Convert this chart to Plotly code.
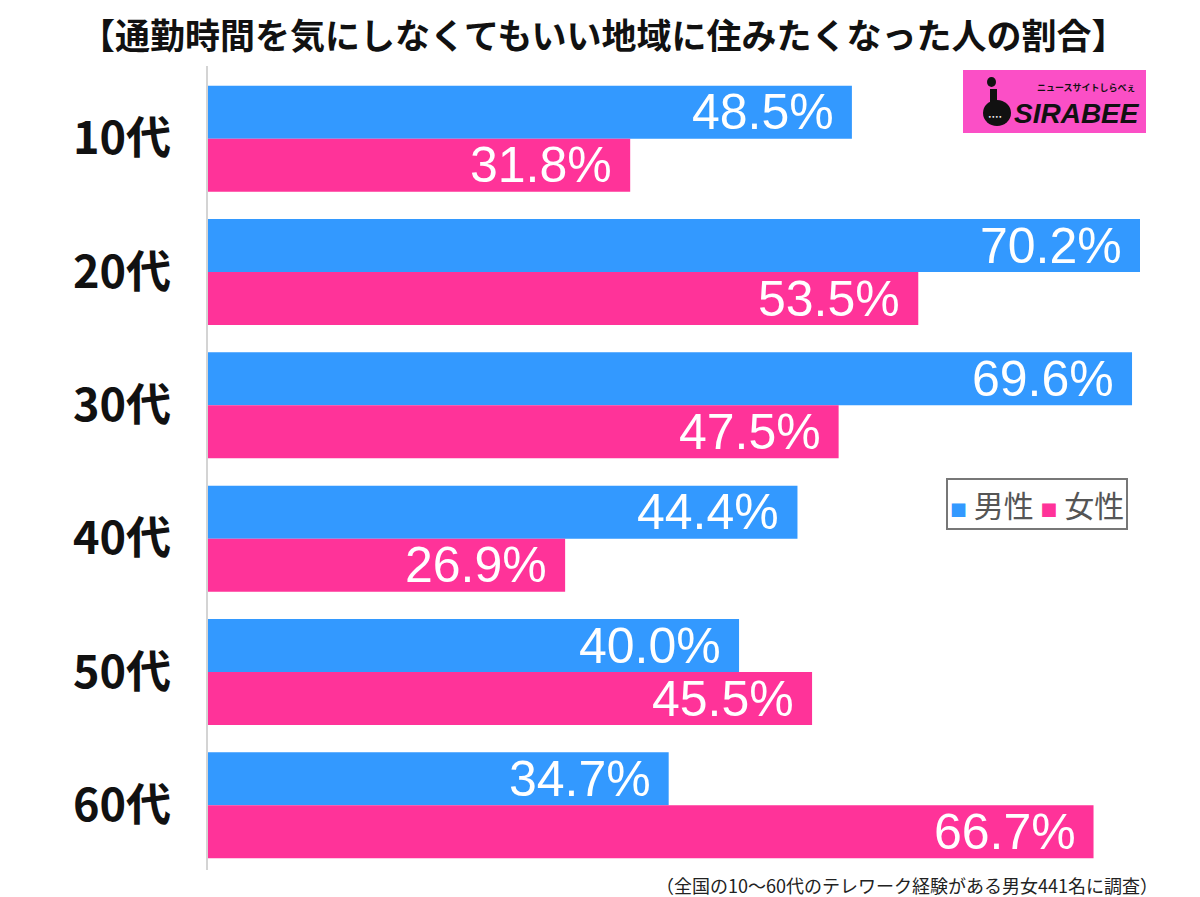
import plotly.graph_objects as go

categories = ["10代", "20代", "30代", "40代", "50代", "60代"]
male = [48.5, 70.2, 69.6, 44.4, 40.0, 34.7]
female = [31.8, 53.5, 47.5, 26.9, 45.5, 66.7]
series_names = ["男性", "女性"]
colors = ["#3399ff", "#ff3399"]

title_text = "【通勤時間を気にしなくてもいい地域に住みたくなった人の割合】"
note_text = "（全国の10〜60代のテレワーク経験がある男女441名に調査）"

# page has an 8px body margin; figure is sized so the page is 1200x897
OFF = 8
W, H = 1200 - OFF, 897 - OFF
L, R, T, B = 200, 20, 64, 25
plot_w = W - L - R
plot_h = H - T - B
px_per_unit = (1140 - 208) / 70.2
xmax = plot_w / px_per_unit


def px2x(px):
    return (px - OFF - L) / plot_w


def py2y(py):
    return (H - B - (py - OFF)) / plot_h


fig = go.Figure()
for name, vals, col in zip(series_names, [male, female], colors):
    fig.add_trace(go.Bar(
        y=categories, x=vals, name=name, orientation="h",
        marker=dict(color=col, line=dict(width=0)),
        hoverinfo="skip", showlegend=False,
    ))

bargap = 0.205
cat_px = plot_h / len(categories)
offset_px = cat_px * (1 - bargap) / 4

annotations = []
for vals, sign in [(male, 1), (female, -1)]:
    for c, v in zip(categories, vals):
        annotations.append(dict(
            x=v, y=c, xref="x", yref="y", text=f"{v:.1f}%",
            showarrow=False, xanchor="right", yanchor="middle",
            xshift=-16, yshift=sign * offset_px,
            font=dict(family="Liberation Sans, Arial, sans-serif", size=50, color="white"),
        ))

# legend box
legend_text = (
    f"<span style='color:{colors[0]};font-size:17px'>■</span> {series_names[0]} "
    f"<span style='color:{colors[1]};font-size:17px'>■</span> {series_names[1]}"
)
annotations.append(dict(
    x=px2x(946), y=py2y(478), xref="paper", yref="paper",
    text=legend_text, showarrow=False, xanchor="left", yanchor="top",
    font=dict(family="Noto Sans CJK JP", size=30, color="#555"),
    bordercolor="#777", borderwidth=2, borderpad=2, bgcolor="white",
))

# footnote
annotations.append(dict(
    x=px2x(1160), y=py2y(885), xref="paper", yref="paper",
    text=note_text, showarrow=False, xanchor="right", yanchor="middle",
    font=dict(family="Noto Sans CJK JP", size=18, color="#222"),
))

# title
annotations.append(dict(
    x=px2x(603), y=py2y(34), xref="paper", yref="paper",
    text="<b>" + title_text + "</b>", showarrow=False, xanchor="center", yanchor="middle",
    font=dict(family="Noto Sans CJK JP", size=35, color="#111"),
))

# logo
shapes = [
    dict(type="line", xref="paper", yref="paper",
         x0=px2x(207), x1=px2x(207), y0=py2y(66), y1=py2y(870),
         line=dict(color="#d4d4d4", width=2)),
    dict(type="rect", xref="paper", yref="paper",
         x0=px2x(963), x1=px2x(1146), y0=py2y(133), y1=py2y(70),
         fillcolor="#fb4fc6", line=dict(width=0), layer="above"),
    dict(type="circle", xref="paper", yref="paper",
         x0=px2x(987), x1=px2x(996), y0=py2y(87), y1=py2y(77),
         fillcolor="#111", line=dict(width=0), layer="above"),
    dict(type="rect", xref="paper", yref="paper",
         x0=px2x(990), x1=px2x(997), y0=py2y(106), y1=py2y(89),
         fillcolor="#111", line=dict(width=0), layer="above"),
    dict(type="circle", xref="paper", yref="paper",
         x0=px2x(983), x1=px2x(1011), y0=py2y(126), y1=py2y(100),
         fillcolor="#111", line=dict(width=0), layer="above"),
]
annotations.append(dict(
    x=px2x(995), y=py2y(116), xref="paper", yref="paper",
    text="••••", showarrow=False, xanchor="center", yanchor="middle",
    font=dict(family="DejaVu Sans", size=6, color="white"),
))
annotations.append(dict(
    x=px2x(1077), y=py2y(113), xref="paper", yref="paper",
    text="<b><i>SIRABEE</i></b>", showarrow=False, xanchor="center", yanchor="middle",
    font=dict(family="Liberation Sans, Arial, sans-serif", size=28, color="#111"),
))
annotations.append(dict(
    x=px2x(1086), y=py2y(87), xref="paper", yref="paper",
    text="<b>ニュースサイトしらべぇ</b>", showarrow=False, xanchor="center", yanchor="middle",
    font=dict(family="Noto Sans CJK JP", size=9, color="#111"),
))

fig.update_layout(
    width=W, height=H,
    margin=dict(l=L, r=R, t=T, b=B),
    paper_bgcolor="white", plot_bgcolor="white",
    barmode="group", bargap=bargap, bargroupgap=0,
    xaxis=dict(range=[0, xmax], visible=False, fixedrange=True),
    yaxis=dict(autorange="reversed", showline=False,
               showgrid=False, zeroline=False, ticks="", ticklabelstandoff=36,
               tickfont=dict(family="Noto Sans CJK JP", size=45, color="#111", weight="bold")),
    annotations=annotations, shapes=shapes,
    showlegend=False,
)

fig.write_html("out.html")
